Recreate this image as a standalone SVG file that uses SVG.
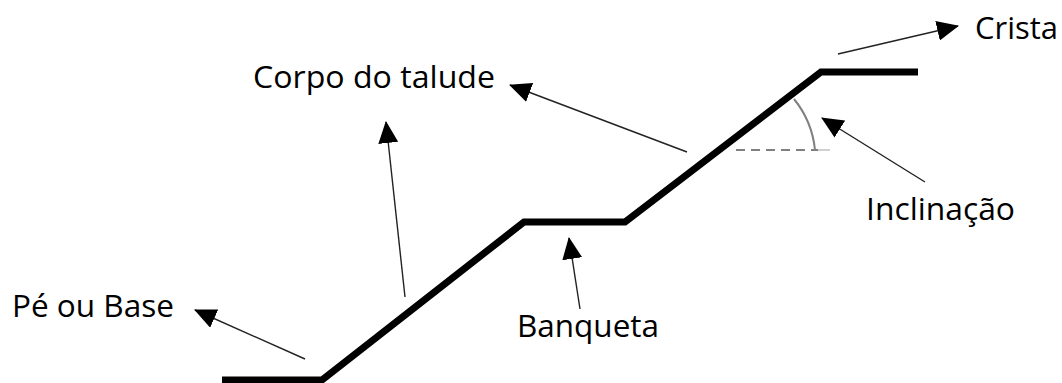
<svg xmlns="http://www.w3.org/2000/svg" width="1062" height="383" viewBox="0 0 1062 383">
  <defs>
    <style>
      .label { font-family: "Open Sans", "Noto Sans", "Liberation Sans", sans-serif; font-size: 31px; fill: #000; }
      .lead { fill: none; stroke: #222; stroke-width: 1.4; marker-end: url(#head); }
      .profile { fill: none; stroke: #000; stroke-width: 7; stroke-linejoin: miter; stroke-linecap: butt; }
      .angle { fill: none; stroke: #808080; stroke-width: 2; }
    </style>
    <marker id="head" markerUnits="userSpaceOnUse" markerWidth="22" markerHeight="20" viewBox="0 0 22 20" refX="21" refY="10" orient="auto">
      <path d="M0,0 L22,10 L0,20 Z" fill="#000"/>
    </marker>
  </defs>
  <rect width="1062" height="383" fill="#fff"/>

  <!-- slope profile with bench -->
  <g id="profile">
    <polyline class="profile" points="222,380 322,380 524,222 625,222 821,72 918,72"/>
  </g>

  <!-- inclination angle indicator -->
  <g id="angle">
    <line x1="736" y1="150" x2="818" y2="150" stroke="#808080" stroke-width="2" stroke-dasharray="9,6"/>
    <line x1="818" y1="150" x2="830" y2="150" stroke="#d0d0d0" stroke-width="2"/>
    <path class="angle" d="M794,99 A96,96 0 0 1 815,150"/>
  </g>

  <g id="connectors">
    <line class="lead" x1="838" y1="54" x2="958" y2="26"/>
    <line class="lead" x1="925" y1="182" x2="822" y2="118"/>
    <line class="lead" x1="687" y1="152" x2="510" y2="85"/>
    <line class="lead" x1="405" y1="297" x2="386" y2="122"/>
    <line class="lead" x1="580" y1="309" x2="569" y2="238"/>
    <line class="lead" x1="305" y1="359" x2="195" y2="310"/>
  </g>

  <g id="crista"><text class="label" x="975" y="39" textLength="83" lengthAdjust="spacingAndGlyphs">Crista</text></g>
  <g id="corpo"><text class="label" x="253" y="88" textLength="242" lengthAdjust="spacingAndGlyphs">Corpo do talude</text></g>
  <g id="inclinacao"><text class="label" x="866" y="220" textLength="149" lengthAdjust="spacingAndGlyphs">Inclinação</text></g>
  <g id="banqueta"><text class="label" x="517" y="337" textLength="142" lengthAdjust="spacingAndGlyphs">Banqueta</text></g>
  <g id="pe"><text class="label" x="12" y="317" textLength="162" lengthAdjust="spacingAndGlyphs">Pé ou Base</text></g>
</svg>
